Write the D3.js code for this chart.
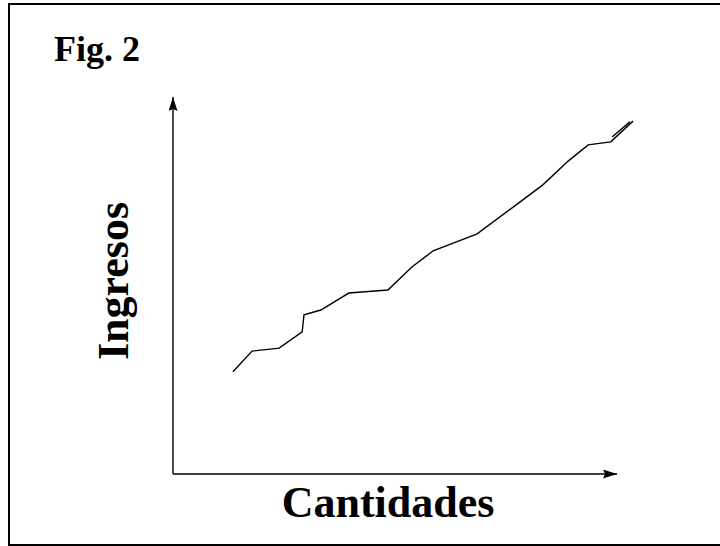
<!DOCTYPE html>
<html>
<head>
<meta charset="utf-8">
<script src="https://cdn.jsdelivr.net/npm/d3@7"></script>
<style>
  body { margin: 0; background: #fff; }
  text { font-family: "Liberation Serif", "Times New Roman", serif; font-weight: bold; fill: #000; }
</style>
</head>
<body>
<div id="chart"></div>
<script>
// ingresos vs cantidades (arbitrary 0-100 units)
const cantidades = [13.5, 17.8, 23.9, 29.1, 29.5, 33.3, 39.6, 48.4, 53.8, 58.6, 68.5, 76.6, 83.3, 89.0, 93.5, 98.6, 103.6];
const ingresos   = [27.1, 32.6, 33.4, 37.7, 42.2, 43.5, 48.0, 48.8, 54.9, 59.2, 63.7, 70.8, 76.7, 83.0, 87.3, 88.1, 93.6];
// small doubled stroke at the end of the curve
const extraX = [98.9, 102.9];
const extraY = [89.4, 93.4];

const title = "Fig. 2";
const xLabel = "Cantidades";
const yLabel = "Ingresos";

const width = 720, height = 546;
const origin = { x: 173, y: 474 };

const svg = d3.select("#chart").append("svg")
  .attr("width", width)
  .attr("height", height);

// frame
svg.append("rect")
  .attr("x", 9).attr("y", 4)
  .attr("width", 720).attr("height", 541)
  .attr("fill", "none")
  .attr("stroke", "#000")
  .attr("stroke-width", 2);

const x = d3.scaleLinear().domain([0, 100]).range([origin.x, 617]);
const y = d3.scaleLinear().domain([0, 100]).range([origin.y, 97]);

const defs = svg.append("defs");
defs.append("marker")
  .attr("id", "arrow")
  .attr("viewBox", "0 0 14 9")
  .attr("refX", 14).attr("refY", 4.5)
  .attr("markerWidth", 14).attr("markerHeight", 9)
  .attr("markerUnits", "userSpaceOnUse")
  .attr("orient", "auto")
  .append("path")
  .attr("d", "M0,0 L14,4.5 L0,9 L2,4.5 Z")
  .attr("fill", "#000");

// axes
svg.append("line")
  .attr("x1", x(0)).attr("y1", y(0))
  .attr("x2", x(100)).attr("y2", y(0))
  .attr("stroke", "#000").attr("stroke-width", 1.4)
  .attr("marker-end", "url(#arrow)");

svg.append("line")
  .attr("x1", x(0)).attr("y1", y(0))
  .attr("x2", x(0)).attr("y2", y(100))
  .attr("stroke", "#000").attr("stroke-width", 1.4)
  .attr("marker-end", "url(#arrow)");

const line = d3.line()
  .x(d => x(d[0]))
  .y(d => y(d[1]));

svg.append("path")
  .datum(d3.zip(cantidades, ingresos))
  .attr("d", line)
  .attr("fill", "none")
  .attr("stroke", "#000")
  .attr("stroke-width", 1.4);

svg.append("path")
  .datum(d3.zip(extraX, extraY))
  .attr("d", line)
  .attr("fill", "none")
  .attr("stroke", "#000")
  .attr("stroke-width", 1.4);

// labels
svg.append("text")
  .attr("x", 54).attr("y", 61)
  .attr("font-size", 36)
  .text(title);

svg.append("text")
  .attr("x", 388).attr("y", 517)
  .attr("text-anchor", "middle")
  .attr("font-size", 44)
  .text(xLabel);

svg.append("text")
  .attr("transform", "translate(128,281) rotate(-90)")
  .attr("text-anchor", "middle")
  .attr("font-size", 44)
  .text(yLabel);
</script>
</body>
</html>
